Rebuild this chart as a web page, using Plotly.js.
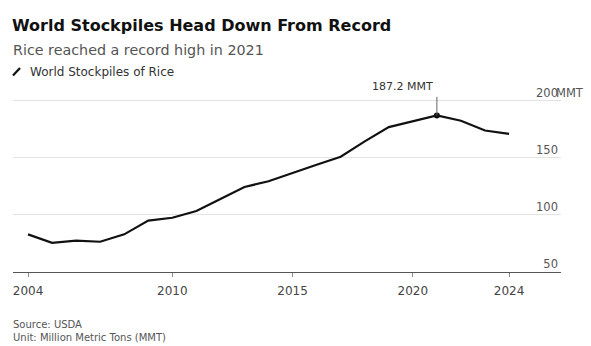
<!DOCTYPE html>
<html>
<head>
<meta charset="utf-8">
<script src="https://cdn.plot.ly/plotly-3.0.1.min.js"></script>
<style>
  html, body { margin: 0; padding: 0; background: #fff; }
  #chart { width: 591px; height: 346px; }
</style>
</head>
<body>
<div id="chart"></div>
<script>
// World rice stockpiles, million metric tons (USDA)
const years = [2004, 2005, 2006, 2007, 2008, 2009, 2010, 2011, 2012, 2013, 2014,
               2015, 2016, 2017, 2018, 2019, 2020, 2021, 2022, 2023, 2024];
const stocks = [83, 75.5, 77.5, 76.5, 83, 95, 97.5, 103.5, 114, 124.5, 129.5,
                137, 144, 151, 164.5, 177, 182, 187.2, 182.5, 174, 171];

const xTickVals = [2004, 2010, 2015, 2020, 2024];
const yTickVals = [50, 100, 150, 200];
const yTickText = ['50', '100', '150', '200'];

const seriesName = 'World Stockpiles of Rice';
const unit = 'MMT';

// the record year is flagged on the chart
const peakIdx = stocks.indexOf(Math.max(...stocks));
const peakYear = years[peakIdx];
const peakValue = stocks[peakIdx];

// page geometry helpers (pixel -> paper coordinates)
const W = 591, H = 346;
const M = { l: 13, r: 30, t: 78, b: 74 };
const px = x => (x - M.l) / (W - M.l - M.r);
const py = y => (H - M.b - y) / (H - M.t - M.b);

const FONT = 'DejaVu Sans, Liberation Sans, Arial, sans-serif';

const traces = [
  {
    x: years, y: stocks, type: 'scatter', mode: 'lines', name: seriesName,
    line: { color: '#111111', width: 2.2 }, showlegend: false, hoverinfo: 'x+y'
  },
  {
    x: [peakYear], y: [peakValue], type: 'scatter', mode: 'markers',
    marker: { color: '#111111', size: 6 }, showlegend: false, hoverinfo: 'skip'
  }
];

const layout = {
  width: W, height: H,
  margin: M,
  paper_bgcolor: '#ffffff', plot_bgcolor: '#ffffff',
  showlegend: false,
  title: {
    text: '<b>World Stockpiles Head Down From Record</b>',
    x: 12 / W, xanchor: 'left', xref: 'container',
    y: 1 - 25 / H, yanchor: 'middle', yref: 'container',
    font: { family: FONT, size: 16, color: '#111111' }
  },
  xaxis: {
    range: [2003.376, 2026.16],
    tickvals: xTickVals, ticktext: xTickVals.map(String),
    showgrid: false, zeroline: false,
    showline: true, linecolor: '#555555', linewidth: 1,
    ticks: 'outside', ticklen: 4, tickcolor: '#888888', tickwidth: 1,
    ticklabelstandoff: 4,
    tickfont: { family: FONT, size: 12, color: '#444444' }
  },
  yaxis: {
    range: [50, 220], side: 'right',
    tickvals: yTickVals, ticktext: yTickText,
    ticklabelposition: 'inside top',
    ticks: '', showline: false, zeroline: false,
    showgrid: true, gridcolor: '#e3e3e3', gridwidth: 1,
    tickfont: { family: FONT, size: 11.5, color: '#555555' }
  },
  shapes: [
    // spike above the record value
    { type: 'line', xref: 'x', yref: 'y', x0: peakYear, x1: peakYear,
      y0: peakValue, y1: 203.5, line: { color: '#666666', width: 1 } },
    // legend glyph
    { type: 'line', xref: 'paper', yref: 'paper',
      x0: px(13), x1: px(20), y0: py(75.5), y1: py(68),
      line: { color: '#111111', width: 2.2 } }
  ],
  annotations: [
    { text: 'Rice reached a record high in 2021', xref: 'paper', yref: 'paper',
      x: px(11), xanchor: 'left', y: py(50), yanchor: 'middle', showarrow: false,
      font: { family: FONT, size: 14.3, color: '#555555' } },
    { text: seriesName, xref: 'paper', yref: 'paper',
      x: px(28), xanchor: 'left', y: py(72), yanchor: 'middle', showarrow: false,
      font: { family: FONT, size: 12, color: '#333333' } },
    { text: peakValue.toFixed(1) + ' ' + unit, xref: 'x', yref: 'paper',
      x: peakYear, xanchor: 'right', xshift: -2, y: py(87), yanchor: 'middle',
      showarrow: false, font: { family: FONT, size: 11, color: '#333333' } },
    { text: unit, xref: 'paper', yref: 'y', x: 1, xanchor: 'left', xshift: -7,
      y: 200, yanchor: 'bottom', yshift: -1, showarrow: false,
      font: { family: FONT, size: 11.5, color: '#555555' } },
    { text: 'Source: USDA<br>Unit: Million Metric Tons (MMT)', xref: 'paper', yref: 'paper',
      x: px(11), xanchor: 'left', align: 'left', y: py(331), yanchor: 'middle',
      showarrow: false,
      font: { family: FONT, size: 10, color: '#555555' } }
  ]
};

Plotly.newPlot('chart', traces, layout, { displayModeBar: false, staticPlot: true });
</script>
</body>
</html>
